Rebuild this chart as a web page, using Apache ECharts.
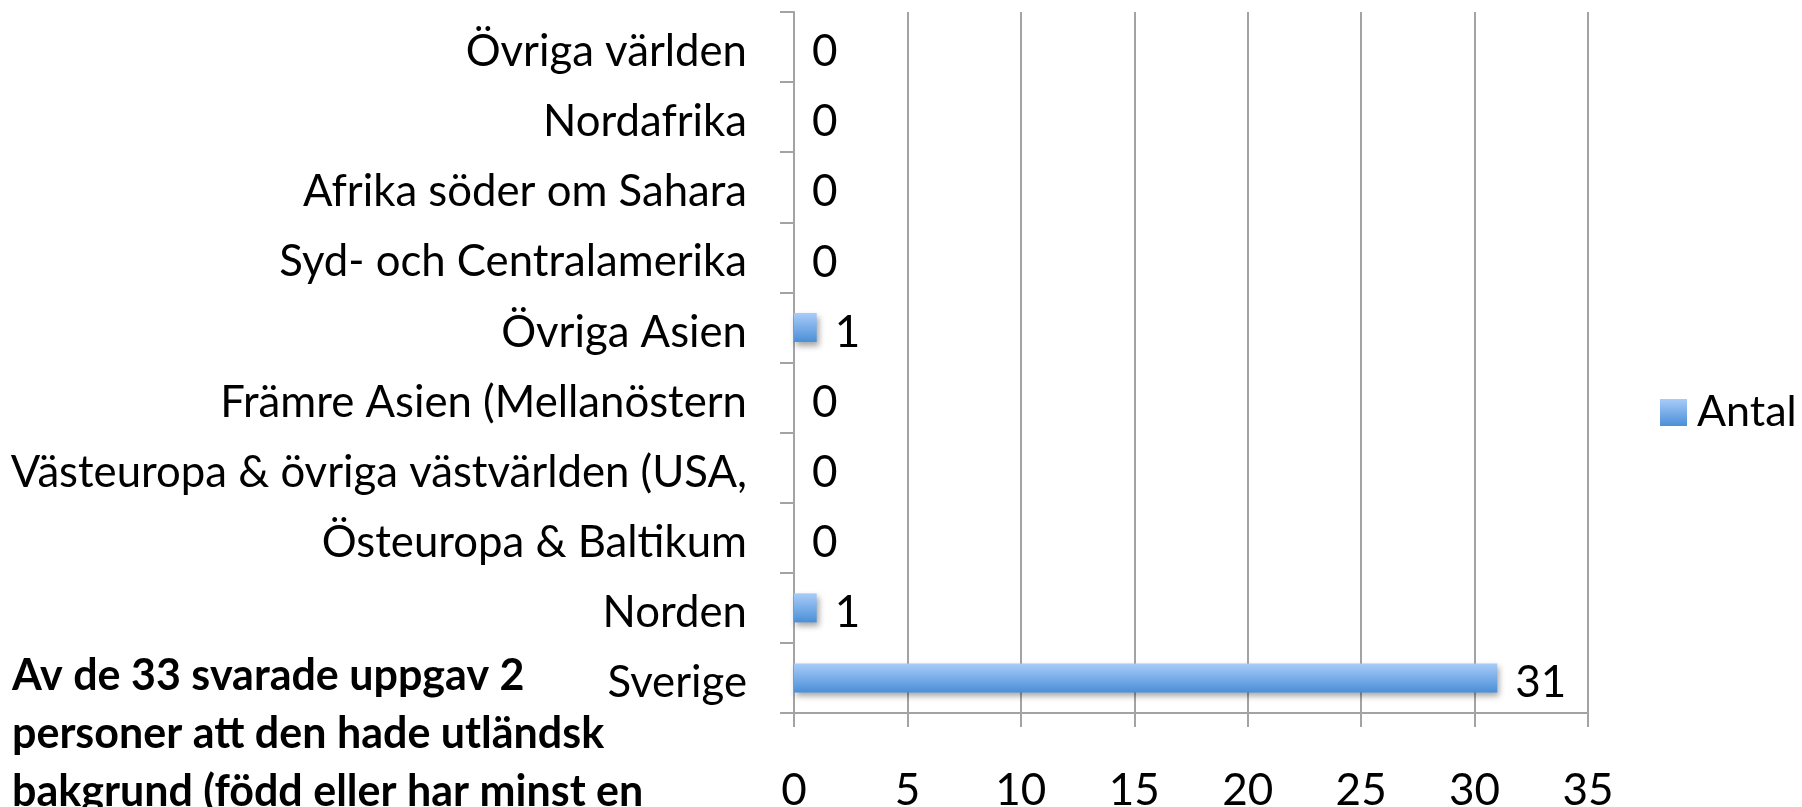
<!DOCTYPE html>
<html>
<head>
<meta charset="utf-8">
<script src="https://cdn.jsdelivr.net/npm/echarts@6/dist/echarts.min.js"></script>
<style>
  html, body { margin: 0; padding: 0; background: #fff; }
  #chart { width: 1802px; height: 807px; }
</style>
</head>
<body>
<div id="chart"></div>
<script>
// categories listed bottom to top (category y axis starts at the bottom)
const regions = [
  'Sverige',
  'Norden',
  'Östeuropa & Baltikum',
  'Västeuropa & övriga västvärlden (USA,',
  'Främre Asien (Mellanöstern',
  'Övriga Asien',
  'Syd- och Centralamerika',
  'Afrika söder om Sahara',
  'Nordafrika',
  'Övriga världen'
];
const antal = [31, 1, 0, 0, 0, 1, 0, 0, 0, 0];
const seriesName = 'Antal';
const note = [
  'Av de 33 svarade uppgav 2',
  'personer att den hade utländsk',
  'bakgrund (född eller har minst en'
];

const font = 'Lato, "Noto Sans", sans-serif';
const gridGray = '#a3a3a3';

const chart = echarts.init(document.getElementById('chart'), null, { renderer: 'canvas' });

chart.setOption({
  backgroundColor: '#fff',
  animation: false,
  textStyle: { fontFamily: font },
  grid: { left: 794, right: 214, top: 12, bottom: 94, outerBoundsMode: 'none', containLabel: false },
  legend: {
    data: [seriesName],
    orient: 'vertical',
    left: 1655,
    top: 386,
    icon: 'rect',
    itemWidth: 27,
    itemHeight: 27,
    textStyle: { fontSize: 43, color: '#000', fontFamily: font, padding: [0, 0, 0, 5] }
  },
  xAxis: {
    type: 'value',
    min: 0,
    max: 35,
    interval: 5,
    axisLine: { show: true, lineStyle: { color: gridGray, width: 2 } },
    axisTick: { show: true, length: 14, lineStyle: { color: gridGray, width: 2 } },
    splitLine: { show: true, lineStyle: { color: gridGray, width: 2 } },
    axisLabel: { fontSize: 44, color: '#000', margin: 56, fontFamily: font }
  },
  yAxis: {
    type: 'category',
    data: regions,
    axisLine: { show: true, lineStyle: { color: gridGray, width: 2 } },
    axisTick: { show: true, length: 14, lineStyle: { color: gridGray, width: 2 } },
    axisLabel: {
      fontSize: 43.7, color: '#000', margin: 47, fontFamily: font,
      verticalAlign: 'top', lineHeight: 10
    }
  },
  series: [{
    name: seriesName,
    type: 'bar',
    data: antal,
    barWidth: 29,
    itemStyle: {
      color: new echarts.graphic.LinearGradient(0, 0, 0, 1, [
        { offset: 0, color: '#a9ccf8' },
        { offset: 1, color: '#4a8fd8' }
      ]),
      shadowColor: 'rgba(0,0,0,0.35)',
      shadowBlur: 6,
      shadowOffsetX: 2,
      shadowOffsetY: 4
    },
    label: {
      show: true,
      position: 'right',
      distance: 18,
      fontSize: 44,
      color: '#000',
      fontFamily: font,
      verticalAlign: 'top',
      lineHeight: 10
    }
  }],
  graphic: [{
    type: 'text',
    left: 12,
    top: 647,
    style: {
      text: note.join('\n'),
      fontSize: 43,
      fontWeight: 'bold',
      fontFamily: font,
      lineHeight: 58,
      fill: '#000'
    }
  }]
});
</script>
</body>
</html>
